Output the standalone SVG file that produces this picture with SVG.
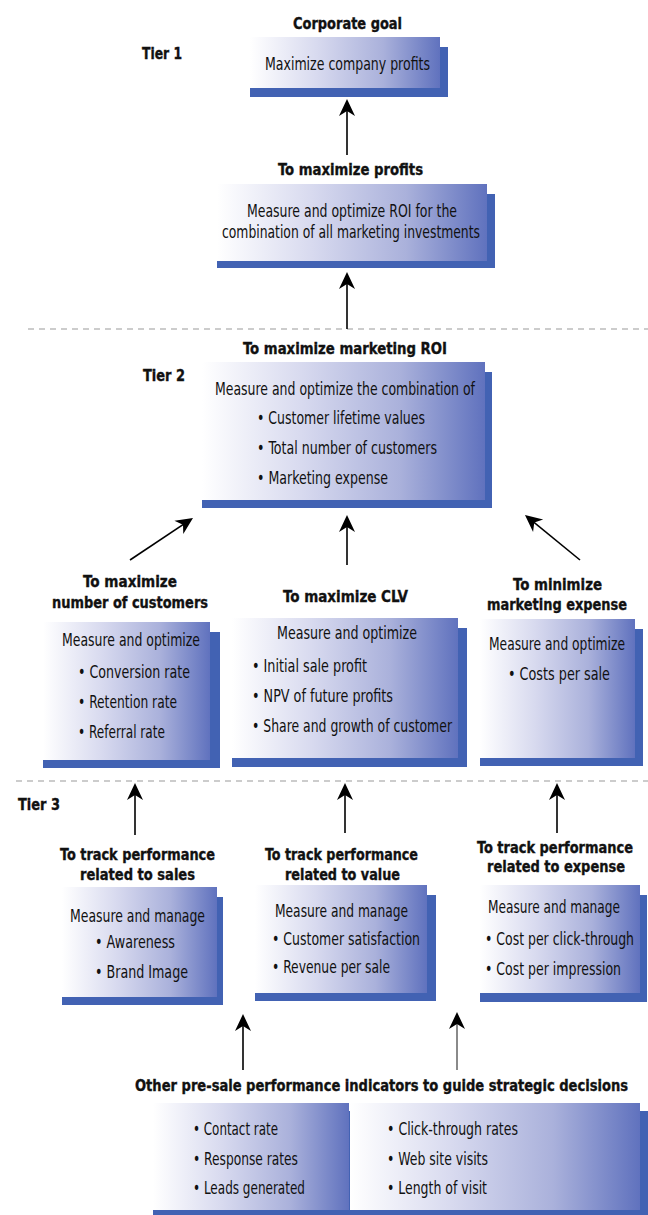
<svg xmlns="http://www.w3.org/2000/svg" width="648" height="1215" viewBox="0 0 648 1215">
<defs>
<linearGradient id="g" x1="0" y1="0" x2="1" y2="0">
<stop offset="0" stop-color="#ffffff"/>
<stop offset="0.35" stop-color="#d8daef"/>
<stop offset="0.7" stop-color="#aab1db"/>
<stop offset="1" stop-color="#6072be"/>
</linearGradient>
<marker id="ah" markerUnits="userSpaceOnUse" markerWidth="22" markerHeight="20" viewBox="-18 -10 22 20" refX="-3" refY="0" orient="auto">
<path d="M0,0 L-17,-8 L-12,0 L-17,8 Z" fill="#000"/>
</marker>
</defs>
<style>
text{font-family:"Liberation Sans Narrow","DejaVu Sans Condensed","Liberation Sans",sans-serif;fill:#111;}
.t{font-size:16px;font-weight:bold;stroke:#111;stroke-width:0.35;}
.b{font-size:17px;}
.e{text-anchor:end;}
.box{fill:url(#g);}
.sh{fill:#4262b3;}
.ar{stroke:#000;stroke-width:1.6;fill:none;marker-end:url(#ah);}
.arg{stroke:#8a8a8a;stroke-width:2;fill:none;marker-end:url(#ah);}
.dash{stroke:#9a9a9a;stroke-width:1.2;stroke-dasharray:6 5;}
</style>

<g id="dividers">
<line class="dash" x1="28" y1="329" x2="648" y2="329"/>
<line class="dash" x1="16" y1="781" x2="648" y2="781"/>
</g>

<g id="tier-labels">
<text class="t" x="142" y="59" textLength="40" lengthAdjust="spacingAndGlyphs">Tier 1</text>
<text class="t" x="143" y="381" textLength="42" lengthAdjust="spacingAndGlyphs">Tier 2</text>
<text class="t" x="18" y="810" textLength="42" lengthAdjust="spacingAndGlyphs">Tier 3</text>
</g>

<g id="connectors">
<line class="ar" x1="347" y1="155" x2="347" y2="102"/>
<line class="ar" x1="347" y1="329" x2="347" y2="275"/>
<line class="ar" x1="130" y1="560" x2="190.5" y2="519.7"/>
<line class="ar" x1="347" y1="565" x2="347" y2="518"/>
<line class="ar" x1="580" y1="560" x2="527.3" y2="516.9"/>
<line class="ar" x1="135" y1="835" x2="135" y2="786"/>
<line class="ar" x1="345" y1="833" x2="345" y2="786"/>
<line class="ar" x1="557" y1="833" x2="557" y2="786"/>
<line class="ar" x1="243" y1="1070" x2="243" y2="1017"/>
<line class="arg" x1="457" y1="1070" x2="457" y2="1015"/>
</g>

<g id="corporate-goal">
<text class="t" x="293" y="29" textLength="109" lengthAdjust="spacingAndGlyphs">Corporate goal</text>
<rect class="sh" x="250" y="47" width="198" height="50"/>
<rect class="box" x="250" y="37" width="190" height="51"/>
<text class="b" x="265" y="70" textLength="165" lengthAdjust="spacingAndGlyphs">Maximize company profits</text>
</g>

<g id="maximize-profits">
<text class="t" x="278" y="175" textLength="145" lengthAdjust="spacingAndGlyphs">To maximize profits</text>
<rect class="sh" x="217" y="194" width="278" height="74"/>
<rect class="box" x="217" y="184" width="270" height="77"/>
<text class="b" x="247" y="217" textLength="210" lengthAdjust="spacingAndGlyphs">Measure and optimize ROI for the</text>
<text class="b" x="222" y="238" textLength="258" lengthAdjust="spacingAndGlyphs">combination of all marketing investments</text>
</g>

<g id="marketing-roi">
<text class="t" x="243" y="354" textLength="204" lengthAdjust="spacingAndGlyphs">To maximize marketing ROI</text>
<rect class="sh" x="202" y="372" width="290" height="136"/>
<rect class="box" x="202" y="362" width="283" height="138"/>
<text class="b" x="215" y="395" textLength="260" lengthAdjust="spacingAndGlyphs">Measure and optimize the combination of</text>
<text class="b" x="257" y="424" textLength="168" lengthAdjust="spacingAndGlyphs">• Customer lifetime values</text>
<text class="b" x="257" y="454" textLength="180" lengthAdjust="spacingAndGlyphs">• Total number of customers</text>
<text class="b" x="257" y="484" textLength="131" lengthAdjust="spacingAndGlyphs">• Marketing expense</text>
</g>

<g id="max-customers">
<text class="t" x="83" y="587" textLength="94" lengthAdjust="spacingAndGlyphs">To maximize</text>
<text class="t" x="52" y="608" textLength="156" lengthAdjust="spacingAndGlyphs">number of customers</text>
<rect class="sh" x="43" y="632" width="177" height="136"/>
<rect class="box" x="43" y="622" width="167" height="138"/>
<text class="b" x="62" y="646" textLength="138" lengthAdjust="spacingAndGlyphs">Measure and optimize</text>
<text class="b" x="78" y="678" textLength="112" lengthAdjust="spacingAndGlyphs">• Conversion rate</text>
<text class="b" x="78" y="708" textLength="99" lengthAdjust="spacingAndGlyphs">• Retention rate</text>
<text class="b" x="78" y="738" textLength="87" lengthAdjust="spacingAndGlyphs">• Referral rate</text>
</g>

<g id="max-clv">
<text class="t" x="283" y="602" textLength="125" lengthAdjust="spacingAndGlyphs">To maximize CLV</text>
<rect class="sh" x="232" y="628" width="235" height="139"/>
<rect class="box" x="232" y="618" width="226" height="140"/>
<text class="b" x="277" y="639" textLength="140" lengthAdjust="spacingAndGlyphs">Measure and optimize</text>
<text class="b" x="252" y="672" textLength="115" lengthAdjust="spacingAndGlyphs">• Initial sale profit</text>
<text class="b" x="252" y="702" textLength="141" lengthAdjust="spacingAndGlyphs">• NPV of future profits</text>
<text class="b" x="252" y="732" textLength="200" lengthAdjust="spacingAndGlyphs">• Share and growth of customer</text>
</g>

<g id="min-expense">
<text class="t e" x="602" y="590" textLength="89" lengthAdjust="spacingAndGlyphs">To minimize</text>
<text class="t e" x="627" y="610" textLength="140" lengthAdjust="spacingAndGlyphs">marketing expense</text>
<rect class="sh" x="480" y="629" width="163" height="137"/>
<rect class="box" x="480" y="619" width="155" height="139"/>
<text class="b e" x="625" y="650" textLength="136" lengthAdjust="spacingAndGlyphs">Measure and optimize</text>
<text class="b e" x="610" y="680" textLength="102" lengthAdjust="spacingAndGlyphs">• Costs per sale</text>
</g>

<g id="track-sales">
<text class="t" x="60" y="860" textLength="155" lengthAdjust="spacingAndGlyphs">To track performance</text>
<text class="t" x="80" y="880" textLength="115" lengthAdjust="spacingAndGlyphs">related to sales</text>
<rect class="sh" x="62" y="897" width="161" height="108"/>
<rect class="box" x="62" y="887" width="155" height="110"/>
<text class="b" x="70" y="922" textLength="135" lengthAdjust="spacingAndGlyphs">Measure and manage</text>
<text class="b" x="95" y="948" textLength="80" lengthAdjust="spacingAndGlyphs">• Awareness</text>
<text class="b" x="95" y="978" textLength="93" lengthAdjust="spacingAndGlyphs">• Brand Image</text>
</g>

<g id="track-value">
<text class="t" x="265" y="860" textLength="153" lengthAdjust="spacingAndGlyphs">To track performance</text>
<text class="t" x="285" y="880" textLength="115" lengthAdjust="spacingAndGlyphs">related to value</text>
<rect class="sh" x="255" y="895" width="181" height="106"/>
<rect class="box" x="255" y="885" width="172" height="108"/>
<text class="b" x="275" y="917" textLength="133" lengthAdjust="spacingAndGlyphs">Measure and manage</text>
<text class="b" x="272" y="945" textLength="148" lengthAdjust="spacingAndGlyphs">• Customer satisfaction</text>
<text class="b" x="272" y="973" textLength="118" lengthAdjust="spacingAndGlyphs">• Revenue per sale</text>
</g>

<g id="track-expense">
<text class="t e" x="633" y="853" textLength="156" lengthAdjust="spacingAndGlyphs">To track performance</text>
<text class="t e" x="625" y="872" textLength="138" lengthAdjust="spacingAndGlyphs">related to expense</text>
<rect class="sh" x="480" y="895" width="167" height="107"/>
<rect class="box" x="480" y="885" width="160" height="108"/>
<text class="b e" x="620" y="913" textLength="132" lengthAdjust="spacingAndGlyphs">Measure and manage</text>
<text class="b e" x="634" y="945" textLength="149" lengthAdjust="spacingAndGlyphs">• Cost per click-through</text>
<text class="b e" x="621" y="975" textLength="136" lengthAdjust="spacingAndGlyphs">• Cost per impression</text>
</g>

<g id="pre-sale">
<text class="t e" x="628" y="1091" textLength="493" lengthAdjust="spacingAndGlyphs">Other pre-sale performance indicators to guide strategic decisions</text>
<rect class="sh" x="153" y="1111" width="495" height="110"/>
<rect class="box" x="153" y="1103" width="196" height="107"/>
<rect class="box" x="350" y="1103" width="290" height="107"/>
<text class="b" x="193" y="1135" textLength="85" lengthAdjust="spacingAndGlyphs">• Contact rate</text>
<text class="b" x="193" y="1165" textLength="105" lengthAdjust="spacingAndGlyphs">• Response rates</text>
<text class="b" x="193" y="1194" textLength="112" lengthAdjust="spacingAndGlyphs">• Leads generated</text>
<text class="b" x="387" y="1135" textLength="131" lengthAdjust="spacingAndGlyphs">• Click-through rates</text>
<text class="b" x="387" y="1165" textLength="101" lengthAdjust="spacingAndGlyphs">• Web site visits</text>
<text class="b" x="387" y="1194" textLength="100" lengthAdjust="spacingAndGlyphs">• Length of visit</text>
</g>
</svg>
